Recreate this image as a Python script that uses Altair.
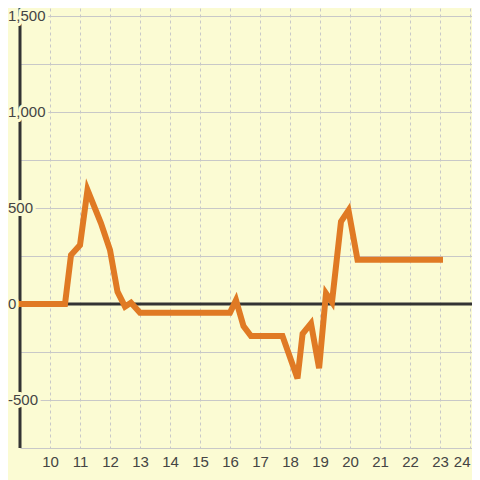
import altair as alt
import pandas as pd

# ---- data ----
hours = [9.0, 10.5, 10.7, 11.0, 11.25, 11.7, 12.0, 12.25, 12.5, 12.7, 13.0,
         16.0, 16.2, 16.45, 16.7, 17.75, 18.25, 18.42, 18.7, 18.97, 19.2,
         19.4, 19.7, 19.95, 20.25, 23.0]
values = [0, 0, 255, 307, 594, 420, 281, 64, -14, 7, -45,
          -45, 20, -115, -167, -167, -388, -155, -101, -335, 56,
          10, 429, 488, 230, 230]

x_ticks = list(range(10, 25))
y_grid = [-750, -500, -250, 0, 250, 500, 750, 1000, 1250, 1500]
y_labels = [-500, 0, 500, 1000, 1500]

BG = "#FBFBD3"
ORANGE = "#E07A24"
DARK = "#333333"
GRID = "#C8C8C8"
FONT = "Liberation Sans"
FS = 15

df = pd.DataFrame({"t": hours, "v": values})
lab_df = pd.DataFrame({"v": y_labels, "label": [f"{v:,}" for v in y_labels]})

xscale = alt.Scale(domain=[9, 24.0667], nice=False, zero=False)
yscale = alt.Scale(domain=[-750, 1541.67], nice=False, zero=False)

x_axis = alt.Axis(
    values=x_ticks, grid=True, gridDash=[3, 3], gridColor=GRID, gridWidth=1,
    ticks=False, domain=False, labelFontSize=FS, labelColor="#444444",
    labelFont=FONT, labelPadding=6, labelOverlap=False, labelFlush=8,
    labelBound=False, title=None, format="d")
y_axis = alt.Axis(
    values=y_grid, grid=True, gridColor=GRID, gridWidth=1,
    labels=False, ticks=False, domain=False, title=None)

line = alt.Chart(df).mark_line(
    color=ORANGE, strokeWidth=6, strokeCap="square", strokeJoin="miter", clip=False
).encode(
    x=alt.X("t:Q", scale=xscale, axis=x_axis),
    y=alt.Y("v:Q", scale=yscale, axis=y_axis),
)

zero_rule = alt.Chart(pd.DataFrame({"v": [0]})).mark_rule(
    color=DARK, strokeWidth=3).encode(y=alt.Y("v:Q", scale=yscale, axis=y_axis))

axis_rule = alt.Chart(pd.DataFrame({"t": [9]})).mark_rule(
    color=DARK, strokeWidth=3).encode(x=alt.X("t:Q", scale=xscale, axis=x_axis))

halo = alt.Chart(lab_df).mark_text(
    align="left", baseline="middle", font=FONT, fontSize=FS,
    color=BG, stroke=BG, strokeWidth=6, strokeJoin="round"
).encode(x=alt.value(-12), y=alt.Y("v:Q", scale=yscale, axis=y_axis), text="label:N")

labels = alt.Chart(lab_df).mark_text(
    align="left", baseline="middle", font=FONT, fontSize=FS, color="#444444"
).encode(x=alt.value(-12), y=alt.Y("v:Q", scale=yscale, axis=y_axis), text="label:N")

chart = alt.layer(zero_rule, axis_rule, line, halo, labels).properties(
    width=452, height=440,
    autosize=alt.AutoSizeParams(type="none"),
    padding={"left": 12, "top": 0, "right": 0, "bottom": 32},
    background=BG,
).configure_view(stroke=None).configure_axisX(labelOverlap=False)

chart.save("out.html", embed_options={"renderer": "svg", "actions": False})
